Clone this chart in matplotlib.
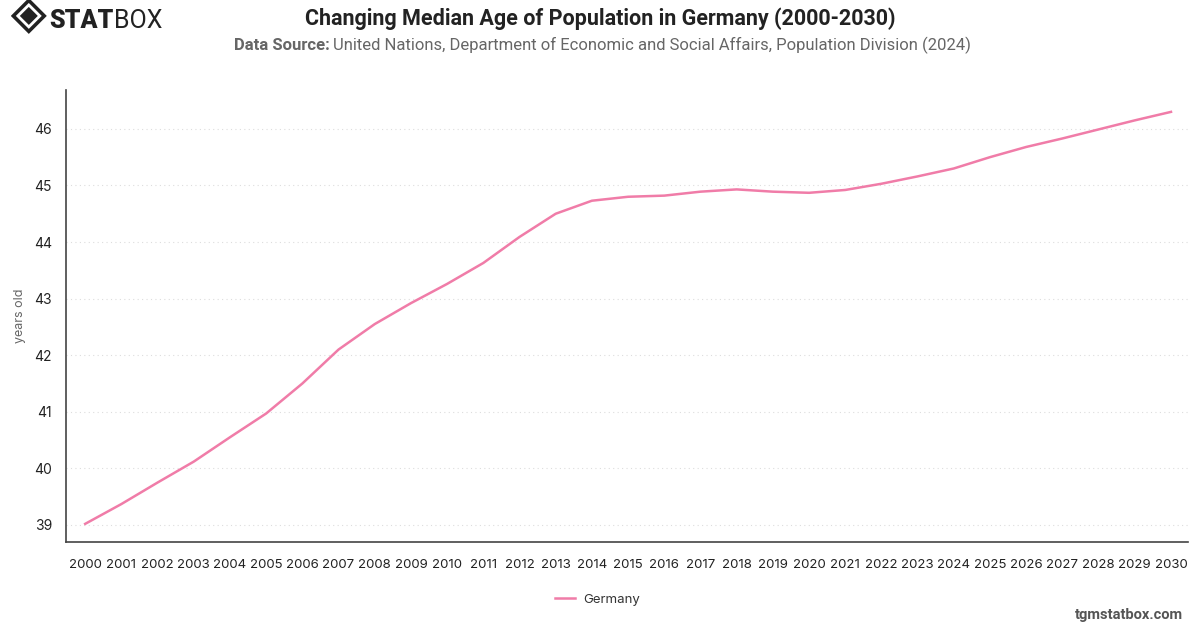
import matplotlib.pyplot as plt
from matplotlib.patches import Polygon

# median age of Germany's population
years = list(range(2000, 2031))
median_age = [39.02, 39.37, 39.75, 40.12, 40.55, 40.97, 41.50, 42.10, 42.55, 42.92,
              43.26, 43.63, 44.09, 44.50, 44.73, 44.80, 44.82, 44.89, 44.93, 44.89,
              44.87, 44.92, 45.03, 45.16, 45.30, 45.50, 45.68, 45.83, 45.99, 46.15, 46.30]
y_ticks = [39, 40, 41, 42, 43, 44, 45, 46]

title = 'Changing Median Age of Population in Germany (2000-2030)'
source = 'United Nations, Department of Economic and Social Affairs, Population Division (2024)'

plt.rcParams['font.family'] = ['Inter', 'DejaVu Sans']
line_color = '#f07ca8'

fig = plt.figure(figsize=(12, 6.28), dpi=100)
ax = fig.add_axes([0.055, 0.137, 0.935, 0.72])

ax.plot(years, median_age, color=line_color, linewidth=1.8, label='Germany')

ax.set_xlim(1999.47, 2030.47)
ax.set_ylim(38.7, 46.69)
ax.set_xticks(years)
ax.set_xticklabels([str(y) for y in years], fontsize=9.5, color='#222222')
ax.set_yticks(y_ticks)
ax.set_yticklabels([str(v) for v in y_ticks], fontsize=10, color='#222222')
ax.tick_params(length=0, pad=12)
ax.tick_params(axis='y', pad=10)
ax.grid(axis='y', color='#dddddd', linestyle=(0, (1, 3)), linewidth=0.8)
ax.set_axisbelow(True)
for side in ['top', 'right']:
    ax.spines[side].set_visible(False)
for side in ['left', 'bottom']:
    ax.spines[side].set_color('#444444')
    ax.spines[side].set_linewidth(1.2)
ax.set_ylabel('years old', fontsize=9, color='#666666', labelpad=6)

leg = fig.legend(loc='center', bbox_to_anchor=(0.498, 0.045), frameon=False,
                 fontsize=9.5, handlelength=1.5, handletextpad=0.6)
for t in leg.get_texts():
    t.set_color('#333333')

# header
fig.text(0.5, 0.971, title, ha='center', va='center', fontsize=15.5,
         fontweight='bold', color='#222222', family='Roboto')
src_bold = fig.text(0.195, 0.928, 'Data Source:', ha='left', va='center',
                    fontsize=12, fontweight='bold', color='#666666', family='Roboto')
fig.canvas.draw()
bb = src_bold.get_window_extent()
x_next = bb.x1 / fig.bbox.width + 0.003
fig.text(x_next, 0.928, source, ha='left', va='center', fontsize=12,
         color='#666666', family='Roboto')

# logo
lax = fig.add_axes([0.009, 0.946, 0.03, 0.0573])
lax.set_xlim(-1, 1)
lax.set_ylim(-1, 1)
lax.axis('off')
lax.add_patch(Polygon([(0, 1), (1, 0), (0, -1), (-1, 0)], closed=True,
                      facecolor='#222222', edgecolor='none'))
lax.add_patch(Polygon([(0, 0.72), (0.72, 0), (0, -0.72), (-0.72, 0)], closed=True,
                      facecolor='white', edgecolor='none'))
lax.add_patch(Polygon([(0, 0.5), (0.5, 0), (0, -0.5), (-0.5, 0)], closed=True,
                      facecolor='#222222', edgecolor='none'))
logo1 = fig.text(0.041, 0.966, 'STAT', ha='left', va='center', fontsize=18,
                 fontweight='black', color='#222222', family='Roboto')
fig.canvas.draw()
lb = logo1.get_window_extent()
fig.text(lb.x1 / fig.bbox.width, 0.966, 'BOX', ha='left', va='center',
         fontsize=18, color='#222222', family='Roboto')

fig.text(0.986, 0.02, 'tgmstatbox.com', ha='right', va='center', fontsize=10.5,
         fontweight='bold', color='#555555', family='Roboto')

plt.savefig('out.png', dpi=100)
